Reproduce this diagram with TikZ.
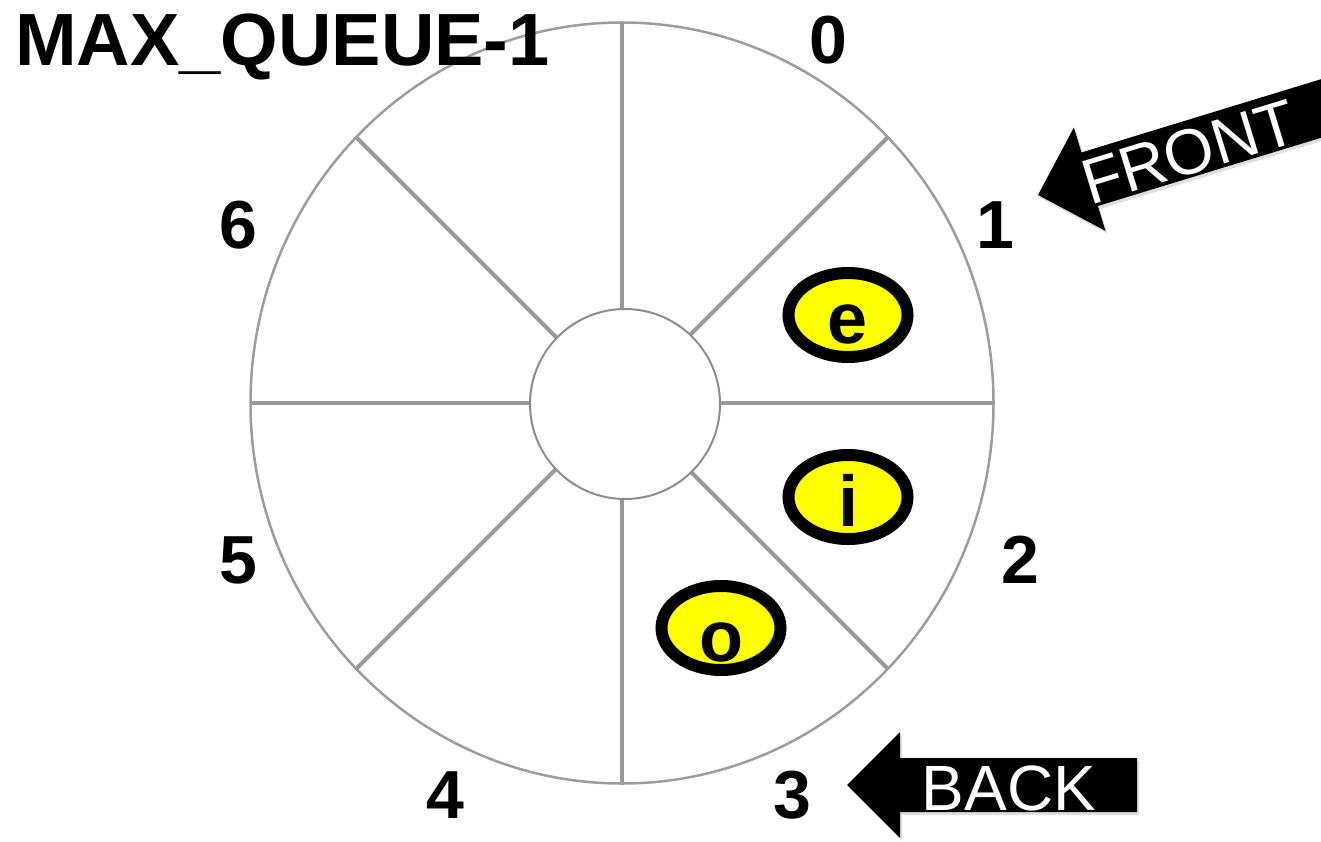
\documentclass[tikz,border=0pt]{standalone}
\usepackage{fontspec}
\setmainfont{Liberation Sans}
\usepackage{tikz}
\usetikzlibrary{calc}
\usetikzlibrary{shapes.geometric}
\usetikzlibrary{shadows}

\definecolor{spokegray}{HTML}{999999}
\definecolor{ringgray}{HTML}{9C9C9C}
\definecolor{hubgray}{HTML}{8C8C8C}
\definecolor{slotyellow}{HTML}{FFFF00}

\begin{document}
\begin{tikzpicture}[x=1pt,y=-1pt,
    idx/.style={font=\fontsize{68}{68}\selectfont\bfseries,inner sep=0pt},
    slot/.style={ellipse,draw=black,line width=12pt,fill=slotyellow,minimum width=119pt,minimum height=84pt,inner sep=0pt,drop shadow={opacity=0.2,shadow xshift=1pt,shadow yshift=-3pt}},
    tag/.style={font=\fontsize{64}{64}\selectfont,text=white,inner sep=0pt},
    pointer/.style={fill=black,drop shadow={opacity=0.25,shadow xshift=2pt,shadow yshift=-3pt}}]
        \useasboundingbox (0,0) rectangle (1321,842);
        \coordinate (ctr) at (622,403);
            % spokes, ring and hub
            \foreach \a in {0,45,...,315}
            {
                \draw [color=spokegray,line width=4pt] (ctr) -- ++(\a:{100/sqrt(cos(\a)^2/3.715^2+sin(\a)^2/3.805^2)});
            }
            \draw [color=ringgray,line width=2.5pt] (ctr) ellipse [x radius=371.5,y radius=380.5];
            \node [circle,draw=hubgray,line width=2pt,fill=white,minimum size=190pt,inner sep=0pt] (hub) at (625,404) {};
            % slot numbers
            \foreach \n/\x/\y in {0/828/40,1/995/225,2/1020/560,3/792/795,4/445/795,5/238/560,6/238/225}
            {
                \node [idx] (lab\n) at (\x,\y) {\n};
            }
            \node [idx,font=\fontsize{74}{74}\selectfont\bfseries,anchor=base west] (title) at (15,66) {MAX\_QUEUE-1};
            % queue elements
            \foreach \c/\x/\y/\b in {e/848/315/343,i/848/497/526,o/721/628/661}
            {
                \node [slot] (slot\c) at (\x,\y) {};
                \node [idx,font=\fontsize{72}{72}\selectfont\bfseries,anchor=base] (let\c) at (\x,\b) {\c};
            }
            % front and back pointers
            \begin{scope}[shift={(1038,195)},rotate=17]
                \fill [pointer] (0,0) -- (54,-54) -- (54,-28) -- (340,-28) -- (340,28) -- (54,28) -- (54,54) -- cycle;
                \node [tag,transform shape,anchor=base] (front) at (157,25) {FRONT};
            \end{scope}
            \begin{scope}[shift={(847,785)}]
                \fill [pointer] (0,0) -- (53,-53) -- (53,-27) -- (290,-27) -- (290,27) -- (53,27) -- (53,53) -- cycle;
                \node [tag,anchor=base] (back) at (162,25) {BACK};
            \end{scope}
        \end{tikzpicture}
\end{document}
